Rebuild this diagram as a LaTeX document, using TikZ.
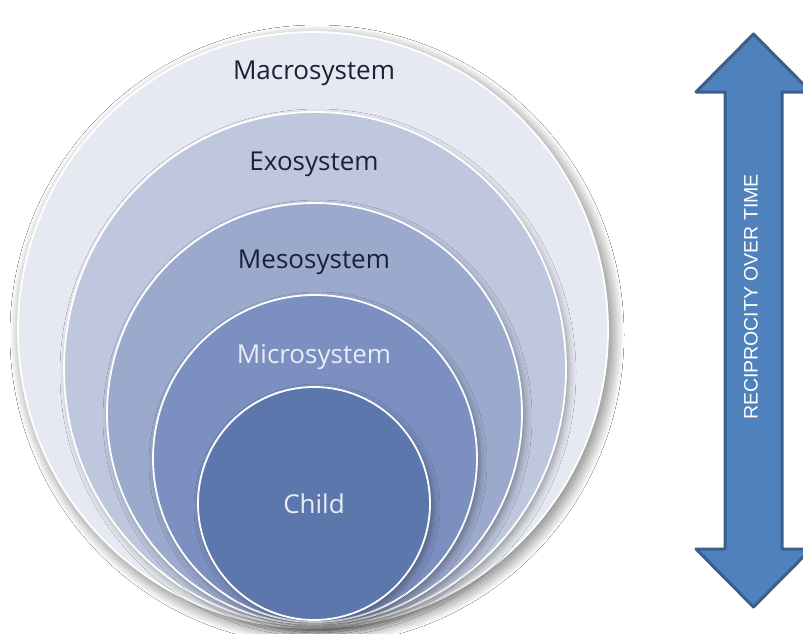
\documentclass[tikz,border=0pt]{standalone}
\usepackage{fontspec}
\setmainfont{Open Sans}
\setsansfont{Liberation Sans}
\usepackage{xcolor}
\usepackage{tikz}
\usetikzlibrary{shapes,shadows.blur}

\definecolor{macroC}{HTML}{E6E9F1}
\definecolor{exoC}{HTML}{BEC7DE}
\definecolor{mesoC}{HTML}{9AA9CC}
\definecolor{microC}{HTML}{7B8FC0}
\definecolor{childC}{HTML}{5C77AC}
\definecolor{inkC}{HTML}{1B2235}
\definecolor{paleC}{HTML}{E8ECF5}
\definecolor{arrowC}{HTML}{4F81BD}
\definecolor{arrowEdge}{HTML}{3B5E8C}

\begin{document}
\begin{tikzpicture}[x=1pt, y=-1pt,
        ring/.style={ellipse, draw=white, line width=1.8pt, inner sep=0pt,
            blur shadow={shadow xshift=3pt, shadow yshift=-4pt, shadow blur radius=7pt, shadow opacity=35}},
        outerring/.style={ring, blur shadow={shadow xshift=4pt, shadow yshift=-5pt, shadow blur radius=12pt,
            shadow blur steps=20, shadow opacity=30}},
        levelname/.style={font=\fontsize{26}{30}\selectfont, anchor=base},
        arrowbody/.style={fill=arrowC, draw=arrowEdge, line width=3pt, line join=round}
    ]
        \useasboundingbox (0,0) rectangle (803,634);
        \fill[white] (0,0) rectangle (803,634);

        % nested systems, all resting on the bottom
        \node [outerring, fill=macroC, minimum width=590pt, minimum height=596pt] (macro) at (313,330) {};
        \node [ring, fill=exoC, minimum width=502pt, minimum height=514pt] (exo) at (315,369) {};
        \node [ring, fill=mesoC, minimum width=415pt, minimum height=421pt] (meso) at (314.5,413.5) {};
        \node [ring, fill=microC, minimum width=324pt, minimum height=327pt] (micro) at (315,458.5) {};
        \node [ring, fill=childC, minimum width=232pt, minimum height=233pt] (child) at (314,503.5) {};

        \node [levelname, text=inkC] (macrotxt) at (314,80) {Macrosystem};
        \node [levelname, text=inkC] (exotxt) at (314,170) {Exosystem};
        \node [levelname, text=inkC] (mesotxt) at (314,268) {Mesosystem};
        \node [levelname, text=paleC] (microtxt) at (314,363) {Microsystem};
        \node [levelname, text=paleC] (childtxt) at (314,513) {Child};

        % reciprocity arrow
        \draw [arrowbody] (753.5,34) -- (811,92) -- (782,92) -- (782,549) -- (811,549) -- (753.5,607)
            -- (696,549) -- (725,549) -- (725,92) -- (696,92) -- cycle;
        \node [rotate=90, text=white, font=\sffamily\fontsize{19.5}{22}\selectfont] (recip) at (751,297) {RECIPROCITY OVER TIME};
\end{tikzpicture}
\end{document}
